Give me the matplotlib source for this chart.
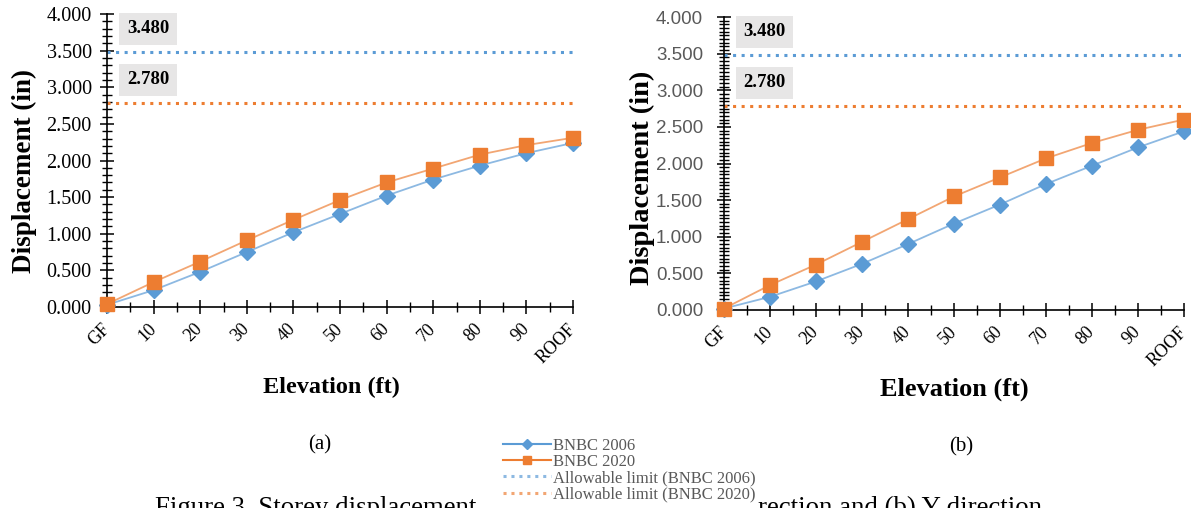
import matplotlib
matplotlib.use("Agg")
import matplotlib.pyplot as plt
from matplotlib.ticker import MultipleLocator, FormatStrFormatter
from matplotlib.lines import Line2D
from matplotlib.patches import Rectangle

# Storey displacement data
elevations = ["GF", "10", "20", "30", "40", "50", "60", "70", "80", "90", "ROOF"]
x_bnbc2006 = [0.03, 0.23, 0.48, 0.75, 1.02, 1.27, 1.52, 1.74, 1.93, 2.10, 2.24]
x_bnbc2020 = [0.04, 0.34, 0.62, 0.91, 1.19, 1.46, 1.70, 1.89, 2.08, 2.21, 2.31]
y_bnbc2006 = [0.02, 0.18, 0.39, 0.63, 0.90, 1.18, 1.44, 1.72, 1.97, 2.22, 2.44]
y_bnbc2020 = [0.02, 0.34, 0.62, 0.93, 1.24, 1.55, 1.81, 2.07, 2.28, 2.46, 2.60]
limit_2006 = 3.480
limit_2020 = 2.780

BLUE = "#5B9BD5"
ORANGE = "#ED7D31"
BLUE_LINE = "#8DB9E2"
ORANGE_LINE = "#F2A673"
SERIF = "Liberation Serif"

W, H = 1191, 508
fig = plt.figure(figsize=(W / 100, H / 100), dpi=100)


def px_axes(x0, x1, y_top, y_bottom):
    return fig.add_axes([x0 / W, (H - y_bottom) / H, (x1 - x0) / W, (y_bottom - y_top) / H])


def draw_panel(ax, s2006, s2020, tick_font, tick_color, tick_size, tick_pad,
               minor_step, ylab_size, ylab_xy, xlab_size, xlab_xy):
    idx = list(range(len(elevations)))
    ax.axhline(limit_2006, color=BLUE, ls=(0, (1, 1.8)), lw=2.2, zorder=2)
    ax.axhline(limit_2020, color=ORANGE, ls=(0, (1, 1.8)), lw=2.2, zorder=2)
    ax.plot(idx, s2006, color=BLUE_LINE, lw=1.3, marker="D", ms=8.5,
            mfc=BLUE, mec=BLUE, zorder=3, clip_on=False)
    ax.plot(idx, s2020, color=ORANGE_LINE, lw=1.3, marker="s", ms=10.5,
            mfc=ORANGE, mec=ORANGE, zorder=4, clip_on=False)

    ax.set_xlim(0, len(elevations) - 1)
    ax.set_ylim(0, 4)
    for side in ("top", "right"):
        ax.spines[side].set_visible(False)
    for side in ("left", "bottom"):
        ax.spines[side].set_linewidth(1.2)
        ax.spines[side].set_color("black")

    ax.set_xticks(idx)
    ax.set_xticklabels(elevations, rotation=45, ha="right", va="center",
                       rotation_mode="anchor", fontfamily=SERIF, fontsize=13)
    ax.xaxis.set_minor_locator(MultipleLocator(0.5))
    ax.yaxis.set_major_locator(MultipleLocator(0.5))
    ax.yaxis.set_minor_locator(MultipleLocator(minor_step))
    ax.yaxis.set_major_formatter(FormatStrFormatter("%.3f"))
    for lab in ax.get_yticklabels():
        lab.set_fontfamily(tick_font)
        lab.set_color(tick_color)
        lab.set_fontsize(tick_size)
    ax.tick_params(axis="both", which="major", direction="inout", length=10,
                   width=1.1, color="black")
    ax.tick_params(axis="both", which="minor", direction="inout", length=7,
                   width=1.0, color="black")
    ax.tick_params(axis="x", which="major", pad=9)
    ax.tick_params(axis="y", which="major", pad=tick_pad)

    ax.set_ylabel("Displacement (in)", fontfamily=SERIF, fontweight="bold",
                  fontsize=ylab_size)
    ax.yaxis.set_label_coords(*ylab_xy)
    ax.set_xlabel("Elevation (ft)", fontfamily=SERIF, fontweight="bold",
                  fontsize=xlab_size)
    ax.xaxis.set_label_coords(*xlab_xy)

    box = dict(boxstyle="square,pad=0.4", fc="#E7E6E6", ec="none")
    ax.text(0.88, 3.80, f"{limit_2006:.3f}", ha="center", va="center",
            fontfamily=SERIF, fontweight="bold", fontsize=13.5, bbox=box, zorder=5)
    ax.text(0.88, 3.10, f"{limit_2020:.3f}", ha="center", va="center",
            fontfamily=SERIF, fontweight="bold", fontsize=13.5, bbox=box, zorder=5)


ax_a = px_axes(107, 573, 14, 307)
draw_panel(ax_a, x_bnbc2006, x_bnbc2020, SERIF, "black", 14.5, 6, 0.1,
           19.5, (-0.15, 0.464), 17.5, (0.481, -0.24))
ax_b = px_axes(724, 1184, 17, 310)
draw_panel(ax_b, y_bnbc2006, y_bnbc2020, "Liberation Sans", "#595959", 13.5, 10, 0.05,
           20.5, (-0.15, 0.45), 19, (0.5, -0.232))

fig.text(320 / W, 1 - 445 / H, "(a)", ha="center", va="center",
         fontfamily=SERIF, fontsize=15)
fig.text(961 / W, 1 - 447 / H, "(b)", ha="center", va="center",
         fontfamily=SERIF, fontsize=15)

fig.text(155 / W, 1 - 515 / H,
         "Figure 3. Storey displacement of building along (a) X direction and (b) Y direction",
         ha="left", va="baseline", fontfamily=SERIF, fontsize=19.4, zorder=3)

# white backing under the legend, down to the bottom edge
fig.patches.append(Rectangle((482 / W, 0), (757 - 482) / W, (508 - 432) / H,
                             transform=fig.transFigure, fc="white", ec="none",
                             zorder=8))

handles = [
    Line2D([], [], color=BLUE, lw=1.5, marker="D", ms=5, mfc=BLUE, mec=BLUE),
    Line2D([], [], color=ORANGE, lw=1.5, marker="s", ms=6, mfc=ORANGE, mec=ORANGE),
    Line2D([], [], color=BLUE_LINE, lw=2.2, ls=(0, (1, 1.6))),
    Line2D([], [], color=ORANGE_LINE, lw=2.2, ls=(0, (1, 1.6))),
]
labels = ["BNBC 2006", "BNBC 2020", "Allowable limit (BNBC 2006)",
          "Allowable limit (BNBC 2020)"]
leg = fig.legend(handles, labels, loc="upper left",
                 bbox_to_anchor=(500 / W, 1 - 435 / H),
                 frameon=False,
                 prop={"family": SERIF, "size": 12}, labelcolor="#595959",
                 handlelength=2.9, handletextpad=0.15, labelspacing=0.02,
                 borderpad=0.15, borderaxespad=0)
leg.set_zorder(10)

fig.savefig("out.png", dpi=100, facecolor="white")
